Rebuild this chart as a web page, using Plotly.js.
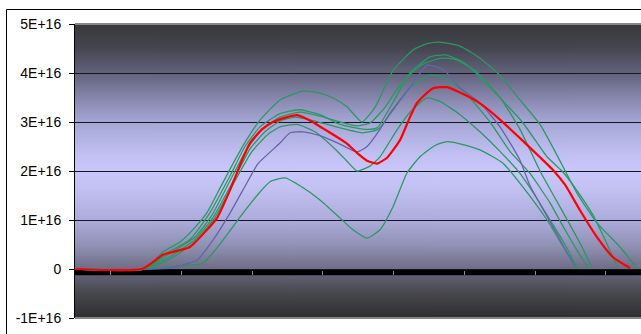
<!DOCTYPE html>
<html>
<head>
<meta charset="utf-8">
<script src="https://cdn.plot.ly/plotly-3.0.1.min.js"></script>
<style>
  html, body { margin: 0; padding: 0; background: #ffffff; }
  #chart { width: 641px; height: 334px; }
</style>
</head>
<body>
<div id="chart"></div>
<script>
// values in units of 1E+16; x = sample position
const UNIT = 1e16;

const yTickVals = [-1, 0, 1, 2, 3, 4, 5];
const yTickText = ["-1E+16", "0", "1E+16", "2E+16", "3E+16", "4E+16", "5E+16"];

const g6X = [0, 75, 100, 128, 148, 165, 182, 195, 210, 225, 245, 265, 278, 292, 305, 318, 332, 345, 360, 372, 390, 405, 428, 448, 472, 492, 502];
const g6Y = [0, 0, 0.05, 0.12, 0.59, 1.06, 1.5, 1.78, 1.86, 1.7, 1.41, 1.04, 0.8, 0.63, 0.8, 1.27, 1.96, 2.29, 2.52, 2.6, 2.53, 2.43, 2.16, 1.67, 1.0, 0.33, 0.02];

const g5X = [0, 70, 95, 120, 140, 160, 177, 193, 205, 222, 240, 260, 272, 282, 295, 305, 322, 335, 352, 365, 385, 405, 425, 445, 460, 475, 490, 502];
const g5Y = [0, 0, 0.2, 0.55, 1.05, 1.8, 2.4, 2.75, 2.9, 2.95, 2.8, 2.45, 2.2, 2.0, 2.1, 2.29, 2.84, 3.2, 3.49, 3.42, 3.15, 2.8, 2.4, 1.95, 1.5, 1.0, 0.5, 0.03];

const g4X = [0, 70, 95, 120, 138, 157, 175, 190, 205, 220, 240, 265, 287, 303, 320, 335, 355, 370, 390, 415, 435, 455, 475, 490, 503, 513];
const g4Y = [0, 0, 0.25, 0.6, 1.05, 1.75, 2.45, 2.8, 3.02, 3.1, 3.02, 2.88, 2.78, 2.85, 3.3, 3.7, 3.96, 3.9, 3.6, 3.0, 2.4, 1.95, 1.35, 0.8, 0.35, 0.03];

const g3X = [0, 70, 93, 120, 137, 155, 172, 187, 205, 225, 245, 265, 282, 295, 310, 325, 345, 365, 380, 400, 425, 445, 465, 480, 495, 507, 517];
const g3Y = [0, 0, 0.3, 0.65, 1.1, 1.8, 2.45, 2.85, 3.1, 3.2, 3.12, 3.0, 2.92, 2.98, 3.3, 3.75, 4.15, 4.3, 4.28, 4.05, 3.5, 2.85, 2.0, 1.45, 0.9, 0.45, 0.03];

const g2X = [0, 70, 90, 115, 135, 155, 170, 185, 205, 225, 245, 265, 290, 302, 318, 335, 355, 370, 390, 415, 448, 472, 487, 502, 518, 530, 542];
const g2Y = [0, 0, 0.3, 0.6, 1.15, 1.9, 2.5, 2.9, 3.17, 3.25, 3.15, 2.95, 2.85, 2.88, 3.4, 4.0, 4.33, 4.37, 4.2, 3.71, 2.98, 2.29, 2.0, 1.6, 1.1, 0.6, 0.05];

const g1X = [0, 70, 88, 105, 120, 132, 145, 158, 172, 185, 205, 228, 245, 260, 272, 287, 300, 310, 318, 338, 352, 365, 385, 405, 425, 445, 465, 480, 502, 522, 545, 562];
const g1Y = [0, 0, 0.35, 0.55, 0.85, 1.15, 1.65, 2.15, 2.65, 3.04, 3.45, 3.63, 3.59, 3.47, 3.31, 3.0, 3.3, 3.72, 4.05, 4.47, 4.6, 4.63, 4.55, 4.3, 3.95, 3.45, 2.95, 2.4, 1.55, 0.94, 0.45, 0.02];

const purpleX = [0, 70, 95, 122, 138, 155, 172, 183, 205, 215, 228, 245, 265, 282, 292, 305, 315, 335, 352, 365, 372, 385, 405, 425, 445, 455, 470, 485, 500];
const purpleY = [0, 0, 0.02, 0.18, 0.59, 1.14, 1.76, 2.15, 2.57, 2.78, 2.8, 2.72, 2.55, 2.39, 2.5, 2.85, 3.18, 3.71, 4.16, 4.1, 4.0, 3.7, 3.39, 2.9, 2.22, 1.7, 1.15, 0.6, 0.03];

const redX = [0, 67, 88, 115, 132, 142, 155, 167, 175, 187, 198, 212, 222, 235, 248, 260, 272, 282, 292, 302, 312, 325, 335, 342, 358, 372, 385, 405, 425, 445, 465, 478, 490, 505, 522, 538, 555];
const redY = [0, 0, 0.29, 0.45, 0.8, 1.04, 1.61, 2.22, 2.57, 2.85, 3.0, 3.1, 3.14, 3.03, 2.87, 2.72, 2.56, 2.37, 2.21, 2.15, 2.27, 2.63, 3.1, 3.39, 3.69, 3.71, 3.6, 3.38, 3.05, 2.67, 2.28, 2.02, 1.72, 1.2, 0.65, 0.24, 0.02];

const GREEN = '#2a9864';
const PURPLE = '#6664a8';
const RED = '#ff0000';

const series = [
  { x: g6X, y: g6Y, color: GREEN, w: 1.3 },
  { x: g5X, y: g5Y, color: GREEN, w: 1.3 },
  { x: g4X, y: g4Y, color: GREEN, w: 1.3 },
  { x: g3X, y: g3Y, color: GREEN, w: 1.3 },
  { x: g2X, y: g2Y, color: GREEN, w: 1.3 },
  { x: g1X, y: g1Y, color: GREEN, w: 1.3 },
  { x: purpleX, y: purpleY, color: PURPLE, w: 1.3 },
  { x: redX, y: redY, color: RED, w: 2.2 }
];

const traces = series.map(s => ({
  type: 'scatter',
  mode: 'lines',
  x: s.x,
  y: s.y.map(v => v * UNIT),
  line: { color: s.color, width: s.w, shape: 'spline', smoothing: 0.5 },
  hoverinfo: 'skip',
  showlegend: false
}));

// background gradient
function gradientURL() {
  const c = document.createElement('canvas');
  c.width = 4; c.height = 294;
  const ctx = c.getContext('2d');
  const g = ctx.createLinearGradient(0, 0, 0, 294);
  const stops = [
    [0.0, '#38383c'], [0.08, '#45454f'], [0.167, '#62627c'], [0.25, '#8686ac'],
    [0.333, '#a6a6d6'], [0.45, '#c3c1f4'], [0.5, '#c9c7fa'], [0.56, '#c3c1f2'],
    [0.667, '#adabdc'], [0.75, '#9292b6'], [0.833, '#6e6e86'], [0.86, '#5e5e70'],
    [0.92, '#46464c'], [1.0, '#2e2e30']
  ];
  stops.forEach(s => g.addColorStop(s[0], s[1]));
  ctx.fillStyle = g;
  ctx.fillRect(0, 0, 4, 294);
  return c.toDataURL('image/png');
}

const layout = {
  width: 641,
  height: 334,
  margin: { l: 75, r: 0, t: 24, b: 16, pad: 0 },
  paper_bgcolor: '#ffffff',
  plot_bgcolor: 'rgba(0,0,0,0)',
  showlegend: false,
  font: { family: '"Liberation Sans", Arial, sans-serif', size: 14, color: '#000000' },
  xaxis: {
    range: [0, 566],
    anchor: 'free',
    position: 0.163,
    showgrid: false,
    zeroline: false,
    showline: false,
    showticklabels: false,
    ticks: 'outside',
    ticklen: 4,
    tickwidth: 1,
    tickcolor: '#8c8c8c',
    tick0: 35.5,
    dtick: 70.75,
    fixedrange: true
  },
  yaxis: {
    range: [-1 * UNIT, 5 * UNIT],
    tickvals: yTickVals.map(v => v * UNIT),
    ticktext: yTickText,
    showgrid: true,
    gridcolor: '#16161e',
    gridwidth: 1,
    zeroline: false,
    showline: true,
    linecolor: '#000000',
    linewidth: 1,
    ticks: 'outside',
    ticklen: 5,
    tickcolor: '#000000',
    ticklabelstandoff: 5,
    tickfont: { family: '"Liberation Sans", Arial, sans-serif', size: 14, color: '#000000' },
    fixedrange: true
  },
  images: [{
    source: gradientURL(),
    xref: 'paper', yref: 'paper',
    x: 0, y: 1, sizex: 1, sizey: 1,
    sizing: 'stretch',
    xanchor: 'left', yanchor: 'top',
    layer: 'below'
  }],
  shapes: [
    // thick category axis band just below zero
    { type: 'rect', xref: 'paper', yref: 'y', x0: 0, x1: 1, y0: -0.125 * UNIT, y1: -0.015 * UNIT,
      fillcolor: '#000000', line: { width: 0 }, layer: 'between' },
    // grey plot-area border top / bottom
    { type: 'line', xref: 'paper', yref: 'paper', x0: 0, x1: 1, y0: 1, y1: 1,
      line: { color: '#858585', width: 2 }, layer: 'above' },
    { type: 'line', xref: 'paper', yref: 'paper', x0: 0, x1: 1, y0: 0, y1: 0,
      line: { color: '#858585', width: 2 }, layer: 'above' },
    // outer chart frame
    { type: 'rect', xref: 'paper', yref: 'paper', x0: -0.1210, x1: 1.2, y0: -0.3, y1: 1.0493,
      fillcolor: 'rgba(0,0,0,0)', line: { color: '#000000', width: 1 }, layer: 'above' }
  ]
};

Plotly.newPlot('chart', traces, layout, { staticPlot: true, displayModeBar: false });
</script>
</body>
</html>
